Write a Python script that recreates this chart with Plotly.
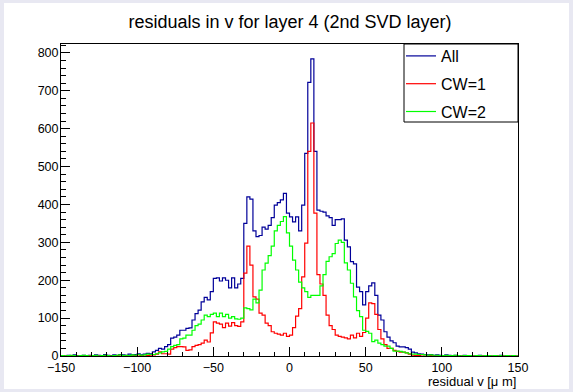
import numpy as np
import plotly.graph_objects as go

# ---- data: histogram binning and bin contents ----
x_min = -150.0
bin_width = 2.0

all_counts = [
    1, 0, 2, 1, 3, 1, 0, 2, 1, 2,
    1, 3, 2, 1, 4, 2, 1, 3, 2, 4,
    3, 2, 5, 3, 4, 6, 3, 5, 7, 6,
    11, 15, 20, 18, 25, 30, 47, 50, 55, 68,
    68, 73, 74, 95, 112, 121, 143, 155, 148, 170,
    205, 206, 198, 206, 200, 180, 206, 180, 190, 205,
    350, 420, 414, 330, 315, 318, 340, 335, 345, 365,
    398, 405, 412, 429, 377, 367, 354, 367, 330, 398,
    535, 722, 784, 540, 385, 382, 380, 370, 365, 345,
    360, 360, 362, 306, 288, 249, 243, 182, 170, 135,
    170, 185, 193, 160, 108, 95, 64, 50, 40, 35,
    26, 24, 24, 22, 18, 10, 8, 6, 5, 4,
    3, 4, 2, 3, 2, 1, 3, 2, 1, 2,
    1, 0, 2, 1, 1, 0, 1, 2, 0, 1,
    1, 0, 1, 0, 2, 0, 1, 0, 1, 0,
]

cw1_counts = [
    0, 0, 0, 1, 0, 0, 0, 0, 0, 1,
    0, 0, 0, 0, 1, 0, 0, 0, 1, 0,
    0, 1, 0, 0, 1, 0, 1, 0, 1, 2,
    3, 5, 11, 6, 6, 5, 18, 22, 25, 25,
    24, 15, 16, 25, 28, 30, 34, 42, 37, 61,
    90, 87, 84, 75, 87, 79, 88, 80, 78, 90,
    219, 290, 240, 156, 150, 113, 108, 87, 80, 64,
    60, 58, 55, 60, 52, 55, 75, 105, 125, 209,
    298, 540, 615, 377, 215, 190, 160, 108, 80, 70,
    55, 52, 50, 48, 45, 55, 48, 60, 52, 62,
    100, 140, 138, 110, 70, 45, 30, 20, 20, 15,
    12, 10, 10, 8, 5, 2, 1, 1, 0, 0,
    0, 1, 0, 0, 0, 1, 0, 0, 0, 0,
    0, 0, 1, 0, 0, 0, 0, 0, 0, 0,
    0, 0, 0, 0, 0, 0, 0, 0, 0, 0,
]

cw2_counts = [
    1, 0, 1, 2, 1, 0, 1, 2, 1, 0,
    1, 2, 0, 1, 2, 1, 0, 1, 2, 3,
    1, 2, 1, 3, 2, 4, 2, 3, 5, 4,
    4, 6, 8, 11, 12, 18, 25, 28, 30, 45,
    47, 55, 55, 68, 80, 84, 95, 108, 104, 110,
    113, 104, 113, 104, 110, 100, 104, 98, 97, 100,
    127, 125, 122, 150, 140, 174, 227, 245, 265, 290,
    330, 345, 355, 368, 325, 290, 253, 227, 195, 180,
    170, 155, 160, 160, 160, 185, 215, 250, 262, 270,
    297, 306, 300, 246, 227, 192, 156, 120, 104, 68,
    65, 60, 38, 42, 34, 30, 26, 26, 20, 13,
    13, 12, 10, 8, 6, 5, 5, 4, 4, 3,
    2, 3, 2, 2, 1, 1, 2, 1, 1, 2,
    1, 0, 1, 1, 1, 0, 1, 1, 0, 1,
    1, 0, 1, 0, 1, 0, 1, 0, 1, 0,
]

series_names = ["All", "CW=1", "CW=2"]
series_colors = ["#000099", "#ff0000", "#00ff00"]
title_text = "residuals in v for layer 4 (2nd SVD layer)"
x_title = "residual v [\u03bc m]"
x_range = [-150, 150]
y_range = [0, 823.5]

# ---- figure ----
FONT = "Liberation Sans, Arial, Helvetica, sans-serif"
W, H = 573, 392
L, R, T, B = 61, 55, 44, 36
pw, ph = W - L - R, H - T - B

edges = x_min + bin_width * np.arange(len(all_counts) + 1)

fig = go.Figure()
for name, counts, col in zip(series_names,
                             [all_counts, cw1_counts, cw2_counts],
                             series_colors):
    fig.add_trace(go.Scatter(
        x=edges, y=list(counts) + [counts[-1]],
        mode="lines", line=dict(shape="hv", color=col, width=1.2),
        name=name, legendgroup=name, hoverinfo="skip"))

axis_common = dict(
    showline=True, linecolor="black", linewidth=1, mirror=True,
    ticks="inside", tickcolor="black", tickwidth=1,
    showgrid=False, zeroline=False,
    tickfont=dict(family=FONT, size=12.5, color="black"),
)

fig.update_xaxes(range=x_range, tick0=0, dtick=50, ticklen=9,
                 minor=dict(ticks="inside", ticklen=4.5, dtick=10, tickcolor="black"),
                 **axis_common)
fig.update_yaxes(range=y_range, tick0=0, dtick=100, ticklen=9,
                 ticklabelstandoff=-1,
                 minor=dict(ticks="inside", ticklen=4.5, dtick=20, tickcolor="black"),
                 **axis_common)

# white canvas over lavender page background
fig.add_shape(type="rect", xref="paper", yref="paper",
              x0=(4 - L) / pw, x1=(569 - L) / pw,
              y0=(T + ph - 389) / ph, y1=(T + ph - 3) / ph,
              fillcolor="white", line=dict(width=0), layer="below")
# legend box
fig.add_shape(type="rect", xref="paper", yref="paper",
              x0=(404 - L) / pw, x1=1.0,
              y0=(T + ph - 122) / ph, y1=1.0,
              line=dict(color="black", width=1), fillcolor="rgba(0,0,0,0)", layer="above")

fig.add_annotation(text=x_title, xref="paper", yref="paper",
                   x=1.0, y=(T + ph - 381) / ph, xanchor="right", yanchor="middle",
                   showarrow=False, font=dict(family=FONT, size=13, color="black"))

fig.update_layout(
    width=W, height=H, autosize=False,
    margin=dict(l=L, r=R, t=T, b=B),
    paper_bgcolor="#e8e8f2", plot_bgcolor="white",
    title=dict(text=title_text, x=290 / W, xanchor="center", xref="container",
               y=1 - 22 / H, yanchor="middle", yref="container",
               font=dict(family=FONT, size=18, color="black")),
    legend=dict(x=(401 - L) / pw, y=1.0 + 5 / ph, xanchor="left", yanchor="top",
                bgcolor="rgba(0,0,0,0)", borderwidth=0, tracegroupgap=4,
                font=dict(family=FONT, size=16, color="black"),
                itemwidth=30),
    showlegend=True,
)

fig.write_html("out.html",
               config={"displayModeBar": False, "staticPlot": True},
               post_script="document.body.style.margin='0px';"
                           "document.body.style.overflow='hidden';")
